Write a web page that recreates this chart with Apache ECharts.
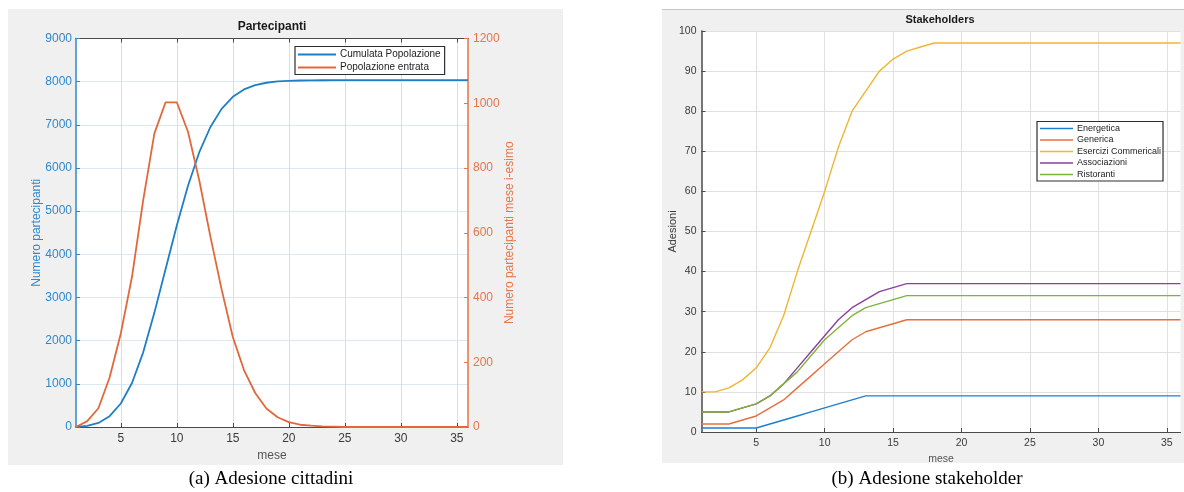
<!DOCTYPE html>
<html>
<head>
<meta charset="utf-8">
<style>
  html, body { margin: 0; padding: 0; background: #ffffff; }
  #chart { width: 1184px; height: 492px; }
</style>
<script src="https://cdn.jsdelivr.net/npm/echarts@6/dist/echarts.min.js"></script>
</head>
<body>
<div id="chart"></div>
<script>
// Months on the x axis
const mesi = [1, 2, 3, 4, 5, 6, 7, 8, 9, 10, 11, 12, 13, 14, 15, 16, 17, 18,
  19, 20, 21, 22, 23, 24, 25, 26, 27, 28, 29, 30, 31, 32, 33, 34, 35, 36];
const meseTicks = [5, 10, 15, 20, 25, 30, 35];

// (a) Partecipanti
const cumulataPopolazione = [0, 25, 95, 250, 545, 1020, 1730, 2650, 3660, 4670, 5590, 6360,
  6950, 7370, 7650, 7820, 7920, 7975, 8005, 8020, 8027, 8031, 8033, 8034,
  8035, 8035, 8035, 8035, 8035, 8035, 8035, 8035, 8035, 8035, 8035, 8035];
const popolazioneEntrata = [0, 18, 58, 153, 289, 464, 701, 907, 1003, 1003, 912, 763,
  588, 425, 278, 176, 105, 57, 30, 15, 7, 4, 2, 1,
  0, 0, 0, 0, 0, 0, 0, 0, 0, 0, 0, 0];

// (b) Stakeholders
const energetica = [1, 1, 1, 1, 1, 2, 3, 4, 5, 6, 7, 8, 9, 9, 9, 9, 9, 9,
  9, 9, 9, 9, 9, 9, 9, 9, 9, 9, 9, 9, 9, 9, 9, 9, 9, 9];
const generica = [2, 2, 2, 3, 4, 6, 8, 11, 14, 17, 20, 23, 25, 26, 27, 28, 28, 28,
  28, 28, 28, 28, 28, 28, 28, 28, 28, 28, 28, 28, 28, 28, 28, 28, 28, 28];
const eserciziCommerciali = [10, 10, 11, 13, 16, 21, 29, 40, 50, 60, 71, 80, 85, 90, 93, 95, 96, 97,
  97, 97, 97, 97, 97, 97, 97, 97, 97, 97, 97, 97, 97, 97, 97, 97, 97, 97];
const associazioni = [5, 5, 5, 6, 7, 9, 12, 16, 20, 24, 28, 31, 33, 35, 36, 37, 37, 37,
  37, 37, 37, 37, 37, 37, 37, 37, 37, 37, 37, 37, 37, 37, 37, 37, 37, 37];
const ristoranti = [5, 5, 5, 6, 7, 9, 12, 15, 19, 23, 26, 29, 31, 32, 33, 34, 34, 34,
  34, 34, 34, 34, 34, 34, 34, 34, 34, 34, 34, 34, 34, 34, 34, 34, 34, 34];

const SANS = 'Liberation Sans, Arial, sans-serif';
const SERIF = 'Liberation Serif, Times New Roman, serif';
const BLUE = '#1f7fc6';
const BLUE_AX = '#2f88cc';
const ORANGE = '#e2683a';
const ORANGE_AX = '#e5754a';
const AXIS_DARK = '#4a4a4a';
const TEXT_DARK = '#3a3a3a';

const plain = (v) => String(v);
const pairs = (ys) => mesi.map((m, i) => [m, ys[i]]);

function lineSeries(name, ys, color, xi, yi, width) {
  return {
    name, type: 'line', xAxisIndex: xi, yAxisIndex: yi,
    data: pairs(ys), showSymbol: false, symbol: 'none',
    lineStyle: { color, width }, itemStyle: { color },
    emphasis: { disabled: true }, z: 3
  };
}

const chart = echarts.init(document.getElementById('chart'), null, { renderer: 'canvas' });

const option = {
  animation: false,
  textStyle: { fontFamily: SANS },
  graphic: [
    // figure panels
    { type: 'rect', z: -100, shape: { x: 8, y: 9, width: 555, height: 456 }, style: { fill: '#f0f0f0' } },
    { type: 'rect', z: -100, shape: { x: 662, y: 9, width: 522, height: 454 }, style: { fill: '#f0f0f0' } },
    { type: 'line', z: -99, shape: { x1: 662, y1: 9.5, x2: 1184, y2: 9.5 }, style: { stroke: '#c8c8c8', lineWidth: 1 } },
    // chart titles
    { type: 'text', x: 272, y: 27, style: { text: 'Partecipanti', font: 'bold 12px ' + SANS, fill: '#1a1a1a', textAlign: 'center', textVerticalAlign: 'middle' } },
    { type: 'text', x: 940, y: 20, style: { text: 'Stakeholders', font: 'bold 11px ' + SANS, fill: '#1a1a1a', textAlign: 'center', textVerticalAlign: 'middle' } },
    // captions
    { type: 'text', x: 271, y: 479, style: { text: '(a) Adesione cittadini', font: '19px ' + SERIF, fill: '#000', textAlign: 'center', textVerticalAlign: 'middle' } },
    { type: 'text', x: 927, y: 479, style: { text: '(b) Adesione stakeholder', font: '19px ' + SERIF, fill: '#000', textAlign: 'center', textVerticalAlign: 'middle' } }
  ],
  grid: [
    { left: 76, top: 38.5, width: 392, height: 388.5, show: true, backgroundColor: '#ffffff', borderWidth: 0, outerBoundsMode: 'none' },
    { left: 701.5, top: 31, width: 479, height: 401, show: true, backgroundColor: '#ffffff', borderWidth: 0, outerBoundsMode: 'none' }
  ],
  legend: [
    {
      data: ['Cumulata Popolazione', 'Popolazione entrata'],
      orient: 'vertical', left: 295, top: 46.5,
      icon: 'rect', itemWidth: 38, itemHeight: 1.8, itemGap: 3,
      padding: [3, 4, 2, 3], backgroundColor: '#ffffff',
      borderColor: '#2e2e2e', borderWidth: 1.2, borderRadius: 0,
      selectedMode: false,
      textStyle: { fontSize: 10, color: '#222', fontFamily: SANS, padding: [0, 0, 0, -1] }
    },
    {
      data: ['Energetica', 'Generica', 'Esercizi Commericali', 'Associazioni', 'Ristoranti'],
      orient: 'vertical', left: 1037, top: 121.5,
      icon: 'rect', itemWidth: 33, itemHeight: 1.5, itemGap: 2.5,
      padding: [2.5, 2, 2, 3], backgroundColor: '#ffffff',
      borderColor: '#2e2e2e', borderWidth: 1.2, borderRadius: 0,
      selectedMode: false,
      textStyle: { fontSize: 9, color: '#222', fontFamily: SANS, padding: [0, 0, 0, -1] }
    }
  ],
  xAxis: [
    {
      gridIndex: 0, type: 'value', min: 1, max: 36, position: 'bottom',
      name: 'mese', nameLocation: 'middle', nameGap: 15,
      nameTextStyle: { color: '#555', fontSize: 12, fontFamily: SANS },
      axisLine: { onZero: false, lineStyle: { color: AXIS_DARK, width: 1.2 } },
      axisTick: { inside: true, length: 4, customValues: meseTicks, lineStyle: { color: AXIS_DARK } },
      axisLabel: { customValues: meseTicks, color: TEXT_DARK, fontSize: 12, margin: 6, fontFamily: SANS, formatter: plain },
      splitLine: { show: true, lineStyle: { color: '#dedede', width: 1 } }
    },
    {
      gridIndex: 0, type: 'value', min: 1, max: 36, position: 'top',
      axisLine: { onZero: false, lineStyle: { color: AXIS_DARK, width: 1.2 } },
      axisTick: { inside: true, length: 4, customValues: meseTicks, lineStyle: { color: AXIS_DARK } },
      axisLabel: { show: false },
      splitLine: { show: false }
    },
    {
      gridIndex: 1, type: 'value', min: 1, max: 36, position: 'bottom',
      name: 'mese', nameLocation: 'middle', nameGap: 17,
      nameTextStyle: { color: '#555', fontSize: 10.5, fontFamily: SANS },
      axisLine: { onZero: false, lineStyle: { color: AXIS_DARK, width: 1.2 } },
      axisTick: { inside: true, length: 4, customValues: meseTicks, lineStyle: { color: AXIS_DARK } },
      axisLabel: { customValues: meseTicks, color: TEXT_DARK, fontSize: 10.5, margin: 6, fontFamily: SANS, formatter: plain },
      splitLine: { show: true, lineStyle: { color: '#e0e0e0', width: 1 } }
    }
  ],
  yAxis: [
    {
      gridIndex: 0, type: 'value', min: 0, max: 9000, interval: 1000, position: 'left',
      name: 'Numero partecipanti', nameLocation: 'middle', nameGap: 33, nameMoveOverlap: false,
      nameTextStyle: { color: BLUE_AX, fontSize: 12, fontFamily: SANS },
      axisLine: { show: true, onZero: false, lineStyle: { color: BLUE_AX, width: 1.5 } },
      axisTick: { show: true, inside: true, length: 4, lineStyle: { color: BLUE_AX } },
      axisLabel: { color: BLUE_AX, fontSize: 12, margin: 4, fontFamily: SANS, formatter: plain },
      splitLine: { show: true, lineStyle: { color: '#dae8f4', width: 1 } }
    },
    {
      gridIndex: 0, type: 'value', min: 0, max: 1200, interval: 200, position: 'right',
      name: 'Numero partecipanti mese i-esimo', nameLocation: 'middle', nameGap: 36, nameMoveOverlap: false,
      nameTextStyle: { color: ORANGE_AX, fontSize: 12, fontFamily: SANS },
      axisLine: { show: true, onZero: false, lineStyle: { color: ORANGE_AX, width: 1.5 } },
      axisTick: { show: true, inside: true, length: 4, lineStyle: { color: ORANGE_AX } },
      axisLabel: { color: ORANGE_AX, fontSize: 12, margin: 5, fontFamily: SANS, formatter: plain },
      splitLine: { show: false }
    },
    {
      gridIndex: 1, type: 'value', min: 0, max: 100, interval: 10, position: 'left',
      name: 'Adesioni', nameLocation: 'middle', nameGap: 23, nameMoveOverlap: false,
      nameTextStyle: { color: TEXT_DARK, fontSize: 11, fontFamily: SANS },
      axisLine: { show: true, onZero: false, lineStyle: { color: AXIS_DARK, width: 1.5 } },
      axisTick: { show: true, inside: true, length: 4, lineStyle: { color: AXIS_DARK } },
      axisLabel: { color: TEXT_DARK, fontSize: 10.5, margin: 5, fontFamily: SANS, formatter: plain },
      splitLine: { show: true, lineStyle: { color: '#e0e0e0', width: 1 } }
    }
  ],
  series: [
    lineSeries('Cumulata Popolazione', cumulataPopolazione, BLUE, 0, 0, 1.8),
    lineSeries('Popolazione entrata', popolazioneEntrata, ORANGE, 0, 1, 1.8),
    lineSeries('Energetica', energetica, '#1d7fd0', 2, 2, 1.4),
    lineSeries('Generica', generica, '#e4703f', 2, 2, 1.4),
    lineSeries('Esercizi Commericali', eserciziCommerciali, '#f0b532', 2, 2, 1.4),
    lineSeries('Associazioni', associazioni, '#8a3f9e', 2, 2, 1.4),
    lineSeries('Ristoranti', ristoranti, '#7db43a', 2, 2, 1.4)
  ]
};

chart.setOption(option);
</script>
</body>
</html>
